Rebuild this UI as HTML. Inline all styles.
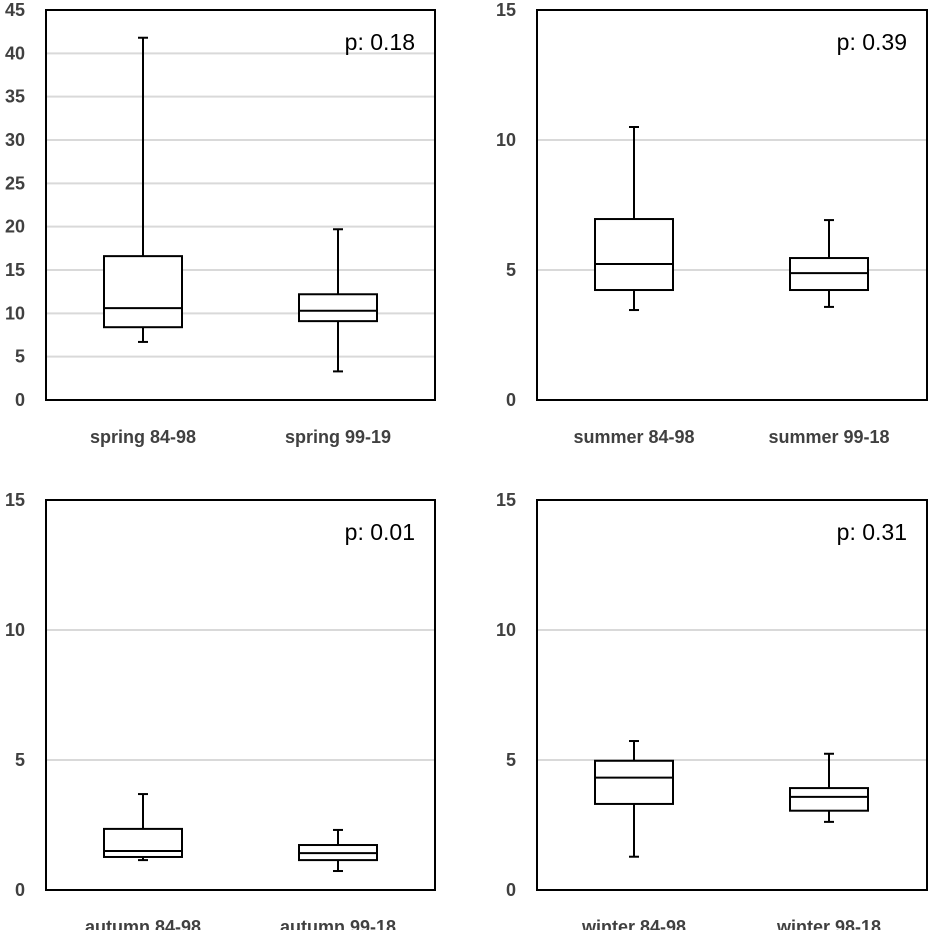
<!DOCTYPE html>
<html><head><meta charset="utf-8"><style>
html,body{margin:0;padding:0;background:#fff;width:929px;height:930px;overflow:hidden}
svg{display:block;font-family:"Liberation Sans",sans-serif}
</style></head><body>
<svg id="c" width="929" height="930"></svg>
<script>
const panelNames=["spring","summer","autumn","winter"];
const categories=[["spring 84-98","spring  99-19"],["summer 84-98","summer  99-18"],["autumn 84-98","autumn  99-18"],["winter 84-98","winter  98-18"]];
const pValues=["p: 0.18","p: 0.39","p: 0.01","p: 0.31"];
const yMax=[45,15,15,15];
const yTicks=[[0,5,10,15,20,25,30,35,40,45],[0,5,10,15],[0,5,10,15],[0,5,10,15]];
const whiskerMin=[[6.7,3.3],[3.46,3.58],[1.15,0.73],[1.28,2.62]];
const q1=[[8.4,9.1],[4.23,4.23],[1.27,1.15],[3.31,3.05]];
const median=[[10.6,10.3],[5.23,4.88],[1.5,1.42],[4.32,3.58]];
const q3=[[16.6,12.2],[6.96,5.46],[2.35,1.73],[4.97,3.92]];
const whiskerMax=[[41.8,19.7],[10.5,6.92],[3.69,2.31],[5.73,5.24]];

const NS="http://www.w3.org/2000/svg";
const svg=document.getElementById('c');
const frames=[{l:46,r:435,t:10,b:400},{l:537,r:927,t:10,b:400},{l:46,r:435,t:500,b:890},{l:537,r:927,t:500,b:890}];
function mk(tag,attrs,parent){const e=document.createElementNS(NS,tag);for(const k in attrs)e.setAttribute(k,attrs[k]);(parent||svg).appendChild(e);return e;}
frames.forEach((f,pi)=>{
  const g=mk('g',{});
  
  
  const y=v=>f.b-(v/yMax[pi])*(f.b-f.t);
  const xc=i=>f.l+97+i*195;
  yTicks[pi].forEach(t=>{
    if(t>0&&t<yMax[pi]){const gl=mk('line',{x1:f.l,x2:f.r,y1:y(t),y2:y(t),stroke:'#d9d9d9','stroke-width':2},g);
      
      }
    const tl=mk('text',{x:f.l-21,y:y(t)+6,'text-anchor':'end','font-size':18,'font-weight':'bold',fill:'#404040'},g);
    tl.textContent=t;
    
    
  });
  const fr=mk('rect',{x:f.l,y:f.t,width:f.r-f.l,height:f.b-f.t,fill:'none',stroke:'#000','stroke-width':2},g);
  
  
  for(let i=0;i<2;i++){
    const bx=mk('g',{stroke:'#000','stroke-width':2,fill:'none'},g);
    
    
    const c=xc(i),w=78;
    mk('line',{x1:c,x2:c,y1:y(whiskerMax[pi][i]),y2:y(q3[pi][i])},bx);
    mk('line',{x1:c,x2:c,y1:y(q1[pi][i]),y2:y(whiskerMin[pi][i])},bx);
    mk('line',{x1:c-5,x2:c+5,y1:y(whiskerMax[pi][i]),y2:y(whiskerMax[pi][i])},bx);
    mk('line',{x1:c-5,x2:c+5,y1:y(whiskerMin[pi][i]),y2:y(whiskerMin[pi][i])},bx);
    mk('rect',{x:c-w/2,y:y(q3[pi][i]),width:w,height:y(q1[pi][i])-y(q3[pi][i]),fill:'#fff'},bx);
    mk('line',{x1:c-w/2,x2:c+w/2,y1:y(median[pi][i]),y2:y(median[pi][i])},bx);
    const cl=mk('text',{x:c,y:f.b+43,'text-anchor':'middle','font-size':18,'font-weight':'bold',fill:'#404040','xml:space':'preserve'},g);
    cl.textContent=categories[pi][i];
    
    
  }
  const pt=mk('text',{x:f.r-20,y:f.t+40,'text-anchor':'end','font-size':23,fill:'#000'},g);
  pt.textContent=pValues[pi];
  
  
});
</script>
</body></html>
